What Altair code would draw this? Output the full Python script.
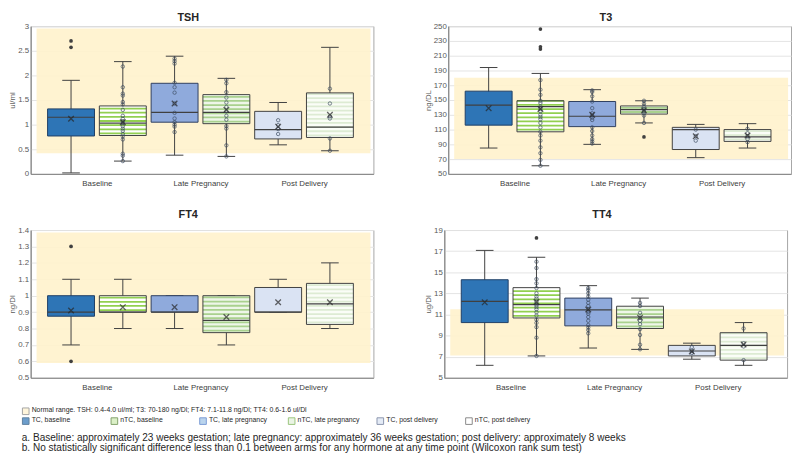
import altair as alt
import pandas as pd

series = ["TC, baseline", "nTC, baseline", "TC, late pregnancy",
          "nTC, late pregnancy", "TC, post delivery", "nTC, post delivery"]
groups = ["Baseline", "Late Pregnancy", "Post Delivery"]

# ---------------- TSH ----------------
tsh_lo = [0.02, 0.26, 0.38, 0.355, 0.59, 0.47]
tsh_q1 = [0.77, 0.78, 1.05, 1.02, 0.71, 0.74]
tsh_med = [1.15, 1.03, 1.25, 1.25, 0.90, 0.95]
tsh_q3 = [1.32, 1.38, 1.84, 1.61, 1.27, 1.645]
tsh_hi = [1.90, 2.28, 2.39, 1.94, 1.45, 2.57]
tsh_mean = [1.12, 1.05, 1.43, 1.30, 0.96, 1.20]
tsh_points = [
    [2.70, 2.57],
    [2.18, 1.76, 1.63, 1.59, 1.46, 1.41, 1.30, 1.18, 1.12, 1.07, 1.03, 0.97,
     0.92, 0.875, 0.81, 0.76, 0.70, 0.41, 0.37, 0.26],
    [2.34, 2.29, 2.24, 1.85, 1.76, 1.65, 1.43, 1.24, 1.125, 1.05, 1.00, 0.96, 0.85],
    [1.91, 1.84, 1.66, 1.55, 1.45, 1.36, 1.27, 1.18, 1.10, 0.97, 0.92, 0.58, 0.355],
    [1.09, 0.99, 0.91, 0.81],
    [1.73, 1.43, 1.17, 1.125, 0.72, 0.47],
]
tsh_band = [0.42, 2.95]
tsh_ticks = [0, 0.5, 1, 1.5, 2, 2.5, 3]

# ---------------- T3 ----------------
t3_lo = [85, 61, 90, 119, 72, 85]
t3_q1 = [116, 107, 114, 131, 83, 94]
t3_med = [143, 141, 128, 137, 110, 100]
t3_q3 = [162, 149, 148, 142, 113, 110]
t3_hi = [194, 186, 164, 149, 117, 118]
t3_mean = [139, 138, 130, 136, 101, 102]
t3_points = [
    [],
    [246, 222, 219, 177, 164, 157, 149, 146, 141, 138, 135, 130, 127, 124, 119,
     113, 107, 102, 95, 86, 78, 69, 61],
    [163, 161, 155, 148, 139, 132, 129, 126, 123, 113, 108, 102, 97, 94, 91],
    [149, 145, 141, 138, 135, 132, 129, 119, 100],
    [110, 101, 95],
    [111, 105, 101, 97, 93],
]
t3_band = [70, 180]
t3_ticks = [50, 70, 90, 110, 130, 150, 170, 190, 210, 230, 250]

# ---------------- FT4 ----------------
ft4_lo = [0.70, 0.80, 0.80, 0.70, 0.90, 0.80]
ft4_q1 = [0.875, 0.90, 0.90, 0.775, 0.90, 0.825]
ft4_med = [0.90, 0.90, 0.90, 0.85, 0.90, 0.95]
ft4_q3 = [1.00, 1.00, 1.00, 1.00, 1.05, 1.075]
ft4_hi = [1.10, 1.10, 1.00, 1.00, 1.10, 1.20]
ft4_mean = [0.91, 0.93, 0.93, 0.87, 0.96, 0.96]
ft4_points = [[1.30, 0.60], [], [], [], [], []]
ft4_band = [0.59, 1.385]
ft4_ticks = [0.5, 0.6, 0.7, 0.8, 0.9, 1.0, 1.1, 1.2, 1.3, 1.4]

# ---------------- TT4 ----------------
tt4_lo = [6.18, 7.07, 7.82, 7.69, 6.76, 6.18]
tt4_q1 = [10.23, 10.67, 9.92, 9.67, 7.07, 6.67]
tt4_med = [12.24, 11.93, 11.44, 10.76, 7.54, 8.07]
tt4_q3 = [14.29, 13.54, 12.55, 11.78, 8.07, 9.27]
tt4_hi = [17.07, 16.42, 13.73, 12.55, 8.28, 10.23]
tt4_mean = [12.15, 12.18, 11.47, 10.70, 7.50, 8.16]
tt4_points = [
    [],
    [18.25, 16.0, 15.4, 14.35, 13.95, 13.5, 13.0, 12.7, 12.5, 12.2, 11.9, 11.7,
     11.5, 11.2, 10.9, 10.5, 10.2, 9.8, 8.8, 7.07],
    [13.5, 13.3, 13.0, 12.7, 12.4, 12.1, 11.8, 11.5, 11.25, 11.07, 10.76, 10.4,
     10.0, 9.77, 9.52, 9.21],
    [12.1, 11.8, 11.16, 10.7, 10.39, 10.08, 9.61, 9.06, 8.13, 7.7],
    [7.9, 7.54, 7.35],
    [9.67, 8.28, 7.97, 6.67],
]
tt4_band = [7.1, 11.5]
tt4_ticks = [5, 7, 9, 11, 13, 15, 17, 19]

normal_text = ("Normal range.  TSH: 0.4-4.0 ul/ml; T3: 70-180 ng/Dl; "
               "FT4: 7.1-11.8 ng/Dl; TT4: 0.6-1.6 ul/Dl")
footnotes = [
    "a. Baseline: approximately 23 weeks gestation; late pregnancy: approximately 36 weeks gestation; post delivery: approximately 8 weeks",
    "b. No statistically significant difference less than 0.1 between arms for any hormone at any time point (Wilcoxon rank sum test)",
]

# ---------------- styles ----------------
box_fill = ["#2E75B6", "#FFFFFF", "#8FAADC", "#EEF6E8", "#DAE3F3", "#FAFDF7"]
box_stroke = ["#1F3F66", "#404040", "#2F3F5F", "#404040", "#404040", "#404040"]
stripe_color = ["", "#92D050", "", "#A9D18E", "", "#DDEBD3"]
legend_fill = ["#2E75B6", "#CDEBB0", "#9DC3E6", "#E2F0D9", "#DAE3F3", "#FFFFFF"]
legend_stroke = ["#1F4E79", "#4E7A2E", "#4472C4", "#70AD47", "#5B6B8C", "#595959"]

FONT = "Liberation Sans"
W = 348
GRAY = "#595959"


def panel(title, ytitle, lo, q1, med, q3, hi, mean, pts, band, ticks, fmt, H, title_y):
    box = pd.DataFrame({
        "series": series, "pos": list(range(len(series))),
        "lo": lo, "q1": q1, "med": med, "q3": q3, "hi": hi, "mean": mean,
        "fill": box_fill, "stroke": box_stroke, "stripe": stripe_color,
    })
    rows = []
    for i, vals in enumerate(pts):
        for v in vals:
            rows.append({"pos": i, "value": v, "outlier": bool(v > hi[i] or v < lo[i])})
    ptsdf = pd.DataFrame(rows, columns=["pos", "value", "outlier"])
    step = (ticks[-1] - ticks[0]) * 4.2 / H

    xs = alt.Scale(domain=[-0.78, 5.84], nice=False, zero=False)
    ys = alt.Scale(domain=[ticks[0], ticks[-1]], nice=False, zero=False)
    centers = [2 * g + 0.5 for g in range(len(groups))]
    label_expr = "".join(f"datum.value == {c} ? '{g}' : " for c, g in zip(centers[:-1], groups[:-1])) + f"'{groups[-1]}'"
    xaxis = alt.Axis(values=centers, labelExpr=label_expr, title=None, ticks=False,
                     grid=False, domainColor="#7F7F7F", labelColor="#404040",
                     labelFontSize=8, labelPadding=6, labelFont=FONT)
    yaxis = alt.Axis(values=ticks, format=fmt, title=ytitle, ticks=False, grid=True,
                     gridColor="#E4E4E4", domainColor="#7F7F7F", labelColor=GRAY,
                     labelFontSize=8, labelFont=FONT, titleFontSize=8,
                     titleFontWeight="normal", titleColor=GRAY, titleFont=FONT,
                     labelPadding=2, titlePadding=1)

    def X(f):
        return alt.X(f, scale=xs, axis=xaxis)

    def Y(f):
        return alt.Y(f, scale=ys, axis=yaxis)

    banddf = pd.DataFrame({"blo": [band[0]], "bhi": [band[1]]})
    band_layer = alt.Chart(banddf).mark_rect(color="#FFF2CC", opacity=0.9).encode(
        x=alt.value(6), x2=alt.value(W - 3), y=Y("blo:Q"), y2="bhi:Q")

    b = alt.Chart(box).transform_calculate(
        bx0="datum.pos - 0.453", bx1="datum.pos + 0.453",
        cx0="datum.pos - 0.17", cx1="datum.pos + 0.17")

    whisk = b.mark_rule(color="#404040", strokeWidth=1).encode(
        x=X("pos:Q"), y=Y("lo:Q"), y2="hi:Q")
    cap_lo = b.mark_rule(color="#404040", strokeWidth=1).encode(
        x=X("cx0:Q"), x2="cx1:Q", y=Y("lo:Q"))
    cap_hi = b.mark_rule(color="#404040", strokeWidth=1).encode(
        x=X("cx0:Q"), x2="cx1:Q", y=Y("hi:Q"))
    rect = b.mark_rect(strokeWidth=0).encode(
        x=X("bx0:Q"), x2="bx1:Q", y=Y("q1:Q"), y2="q3:Q",
        fill=alt.Fill("fill:N", scale=None))
    stripes = b.transform_filter("datum.stripe != ''").transform_calculate(
        sv=f"sequence(datum.q1 + {step / 2}, datum.q3, {step})"
    ).transform_flatten(["sv"]).mark_rule(strokeWidth=1.8).encode(
        x=X("bx0:Q"), x2="bx1:Q", y=Y("sv:Q"),
        color=alt.Color("stripe:N", scale=None))
    outline = b.mark_rect(fillOpacity=0, strokeWidth=1).encode(
        x=X("bx0:Q"), x2="bx1:Q", y=Y("q1:Q"), y2="q3:Q",
        stroke=alt.Stroke("stroke:N", scale=None))
    median = b.mark_rule(color="#404040", strokeWidth=1.2).encode(
        x=X("bx0:Q"), x2="bx1:Q", y=Y("med:Q"))
    inner = alt.Chart(ptsdf).transform_filter("!datum.outlier").mark_point(
        filled=False, size=12, strokeWidth=1, color="#3B4A60").encode(
        x=X("pos:Q"), y=Y("value:Q"))
    outl = alt.Chart(ptsdf).transform_filter("datum.outlier").mark_circle(
        size=14, color="#404040", opacity=1).encode(
        x=X("pos:Q"), y=Y("value:Q"))
    meanm = b.mark_point(shape="M-1,-1L1,1M-1,1L1,-1", size=32, strokeWidth=1.3,
                         color="#262626").encode(
        x=X("pos:Q"), y=Y("mean:Q"))
    ttl = alt.Chart(pd.DataFrame({"t": [title]})).mark_text(
        fontSize=11, fontWeight="bold", font=FONT, color="#262626",
        baseline="middle", align="center").encode(
        x=alt.value(W / 2 - 14), y=alt.value(title_y), text="t:N")

    return alt.layer(band_layer, whisk, cap_lo, cap_hi, rect, stripes, outline,
                     median, inner, outl, meanm, ttl).properties(width=W, height=H)


tsh = panel("TSH", "ul/ml", tsh_lo, tsh_q1, tsh_med, tsh_q3, tsh_hi, tsh_mean,
            tsh_points, tsh_band, tsh_ticks, ".1~f", 150, -8)
t3 = panel("T3", "ng/DL", t3_lo, t3_q1, t3_med, t3_q3, t3_hi, t3_mean,
           t3_points, t3_band, t3_ticks, "d", 150, -8)
ft4 = panel("FT4", "ng/Dl", ft4_lo, ft4_q1, ft4_med, ft4_q3, ft4_hi, ft4_mean,
            ft4_points, ft4_band, ft4_ticks, ".1~f", 150, -15)
tt4 = panel("TT4", "ug/Dl", tt4_lo, tt4_q1, tt4_med, tt4_q3, tt4_hi, tt4_mean,
            tt4_points, tt4_band, tt4_ticks, "d", 150, -15)

# ---------------- legend / notes ----------------
leg = pd.DataFrame({"series": series, "lfill": legend_fill, "lstroke": legend_stroke})
lx = alt.X("series:N", sort=series,
           scale=alt.Scale(type="point", range=[-5, 445], padding=0), axis=None)
leg_sq = alt.Chart(leg).mark_square(size=45, strokeWidth=1).encode(
    x=lx, y=alt.value(26),
    fill=alt.Fill("lfill:N", scale=None), stroke=alt.Stroke("lstroke:N", scale=None))
leg_tx = alt.Chart(leg).mark_text(align="left", baseline="middle", dx=6,
                                  fontSize=7, font=FONT, color="#262626").encode(
    x=lx, y=alt.value(25), text="series:N")
nr = pd.DataFrame({"label": [normal_text]})
nr_sq = alt.Chart(nr).mark_square(size=45, fill="#FFF2CC", stroke="#7F7F7F",
                                  strokeWidth=1).encode(x=alt.value(-5), y=alt.value(16))
nr_tx = alt.Chart(nr).mark_text(align="left", baseline="middle", fontSize=7,
                                font=FONT, color="#262626").encode(
    x=alt.value(1), y=alt.value(15), text="label:N")
fn = pd.DataFrame({"label": ["\n".join(footnotes)]})
fn_tx = alt.Chart(fn).mark_text(align="left", baseline="top", fontSize=10.2, font=FONT,
                                color="#262626", lineBreak="\n", lineHeight=10).encode(
    x=alt.value(-9), y=alt.value(38), text="label:N")
legend = alt.layer(nr_sq, nr_tx, leg_sq, leg_tx, fn_tx).properties(
    width=700, height=58, view=alt.ViewBackground(stroke="transparent"))

top = alt.hconcat(tsh, t3, spacing=50)
bottom = alt.hconcat(ft4, tt4, spacing=50)
lower = alt.vconcat(bottom, legend, spacing=2)
chart = alt.vconcat(top, lower, spacing=20).properties(
    padding={"left": 0, "top": 0, "right": 0, "bottom": 0}
).configure(font=FONT).configure_view(stroke="#A6A6A6", strokeWidth=1)

chart.save("out.html", embed_options={"renderer": "svg", "actions": False})
